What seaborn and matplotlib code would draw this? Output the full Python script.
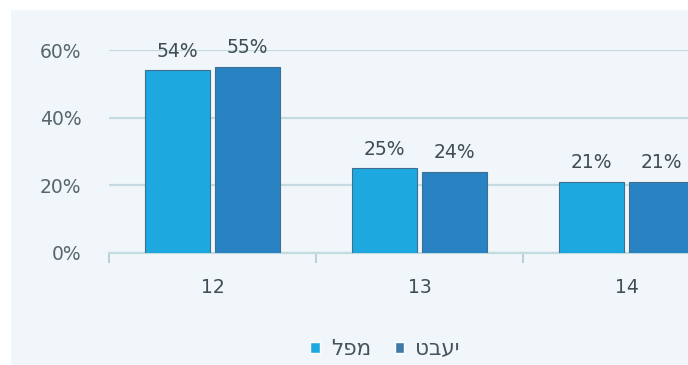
import matplotlib
matplotlib.use("Agg")
import matplotlib.pyplot as plt
import seaborn as sns
import pandas as pd
from matplotlib.patches import Rectangle, Patch
from matplotlib.ticker import PercentFormatter

categories = ["12", "13", "14"]
series_names = ["לפמ", "טבעי"]
series_a = [54, 25, 21]  # לפמ
series_b = [55, 24, 21]  # טבעי
y_ticks = [0, 20, 40, 60]

df = pd.DataFrame({
    "cat": categories * 2,
    "series": [series_names[0]] * 3 + [series_names[1]] * 3,
    "value": series_a + series_b,
})

sns.set_style("white")
plt.rcParams["font.family"] = ["DejaVu Sans"]

W, H = 688, 365
fig = plt.figure(figsize=(W / 100, H / 100), dpi=100)
fig.patch.set_facecolor("white")
fig.patches.append(Rectangle((11 / W, 0), 1 - 11 / W, 1 - 10 / H,
                             transform=fig.transFigure, facecolor="#f0f6f9",
                             edgecolor="none", zorder=-10))

left = 109 / W
bottom = 1 - 253 / H
top = 1 - 50 / H
ax = fig.add_axes([left, bottom, 1 - left, top - bottom])
ax.set_facecolor("none")

colors = ["#1ea8e0", "#2983c2"]
sns.barplot(data=df, x="cat", y="value", hue="series", hue_order=series_names,
            palette=colors, width=0.68, gap=0.08, ax=ax, legend=False,
            edgecolor="#3f6f8c", linewidth=0.8, saturation=1, zorder=3)

cat_px = 207
ax.set_xlim(-0.5, 2.5 - (109 + 3 * cat_px - W) / cat_px)
ax.set_ylim(0, 60)
ax.set_yticks(y_ticks)
ax.yaxis.set_major_formatter(PercentFormatter(decimals=0))
ax.grid(axis="y", color="#c3dbe1", linewidth=1.6, zorder=0)
ax.set_axisbelow(True)
for s in ["top", "right", "left"]:
    ax.spines[s].set_visible(False)
ax.spines["bottom"].set_color("#c3dbe1")
ax.spines["bottom"].set_linewidth(1.6)
ax.spines["bottom"].set_zorder(1)

ax.tick_params(axis="y", length=0, pad=20, labelsize=13.5, labelcolor="#56666e")
ax.tick_params(axis="x", which="major", length=0, pad=18, labelsize=13.5, labelcolor="#3f4d55")
ax.set_xticks([-0.5, 0.5, 1.5], minor=True)
ax.tick_params(axis="x", which="minor", bottom=True, length=7, width=1.4, color="#b7cfd6")
ax.set_xlabel("")
ax.set_ylabel("")

for cont in ax.containers:
    for bar in cont:
        h = bar.get_height()
        ax.annotate(f"{h:.0f}%", (bar.get_x() + bar.get_width() / 2, h),
                    xytext=(0, 7), textcoords="offset points", ha="center",
                    va="bottom", fontsize=13.5, color="#3f4d55",
                    annotation_clip=False)

handles = [Patch(facecolor=colors[0]), Patch(facecolor="#3d7aa6")]
fig.legend(handles, series_names, loc="center", bbox_to_anchor=(385 / W, 1 - 349 / H),
           ncol=2, frameon=False, fontsize=15.5, handlelength=0.45, handleheight=0.45,
           handletextpad=0.5, columnspacing=1.1, labelcolor="#46555d")

fig.savefig("out.png", dpi=100)
